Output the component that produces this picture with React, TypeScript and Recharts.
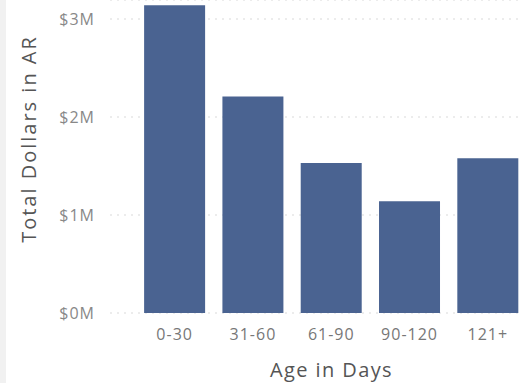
import { Bar, BarChart, CartesianGrid, XAxis, YAxis } from 'recharts'

const ageBuckets = ['0-30', '31-60', '61-90', '90-120', '121+']
const totalDollars = [3140000, 2210000, 1530000, 1140000, 1580000]
const dollarTicks = [0, 1000000, 2000000, 3000000]

const data = ageBuckets.map((bucket, i) => ({ bucket, total: totalDollars[i] }))

const font = '"Open Sans", "Noto Sans", sans-serif'

function YTitle({ viewBox }: { viewBox?: { x: number; y: number; width: number; height: number } }) {
  if (!viewBox) return null
  return (
    <text
      x={28}
      y={139}
      transform="rotate(-90 28 139)"
      textAnchor="middle"
      dominantBaseline="central"
      fill="#555"
      fontSize={20}
      letterSpacing={2}
      fontFamily={font}
    >
      Total Dollars in AR
    </text>
  )
}

export default function App() {
  return (
    <div
      style={{
        position: 'absolute',
        left: 0,
        top: 0,
        width: 520,
        height: 383,
        overflow: 'hidden',
        background: '#fff',
      }}
    >
      <div style={{ position: 'absolute', left: 0, top: 0, width: 6, height: 383, background: '#f1f1f1' }} />
      <BarChart
        width={527}
        height={383}
        data={data}
        margin={{ top: 0, right: 0, left: 0, bottom: 0 }}
        barCategoryGap="11%"
      >
        <CartesianGrid vertical={false} stroke="#d9d9d9" strokeDasharray="2 5" />
        <XAxis
          dataKey="bucket"
          height={70}
          axisLine={false}
          tickLine={false}
          tickSize={0}
          tickMargin={16}
          padding={{ left: 25.5, right: 0 }}
          tick={{ fill: '#777', fontSize: 16, letterSpacing: 1, fontFamily: font }}
          interval={0}
          label={{
            value: 'Age in Days',
            position: 'insideBottom',
            offset: 6,
            dx: 13,
            fill: '#555',
            fontSize: 20,
            letterSpacing: 1.4,
            fontFamily: font,
          }}
        />
        <YAxis
          width={110}
          domain={[0, 3194000]}
          ticks={dollarTicks}
          allowDataOverflow
          axisLine={false}
          tickLine={false}
          tickSize={0}
          tickMargin={15}
          tickFormatter={(v) => `$${Math.round(Number(v) / 1000000)}M`}
          tick={{ fill: '#888', fontSize: 16, letterSpacing: 1, fontFamily: font }}
          label={<YTitle />}
        />
        <Bar dataKey="total" fill="#4a6391" isAnimationActive={false} />
      </BarChart>
    </div>
  )
}
